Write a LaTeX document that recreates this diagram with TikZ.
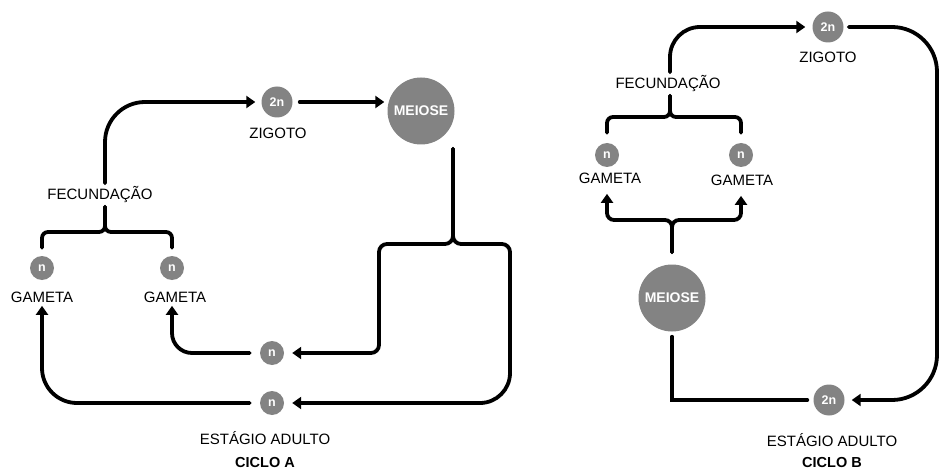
\documentclass[tikz,border=0pt]{standalone}
\usepackage{fontspec}
\setmainfont{Liberation Sans}
\usetikzlibrary{arrows.meta,positioning,calc}
\definecolor{cellgray}{HTML}{838383}

\begin{document}
\begin{tikzpicture}[x=1pt,y=-1pt,
    every node/.style={font=\fontsize{15}{17}\selectfont},
    cell/.style={circle,fill=cellgray,text=white,inner sep=0pt,font=\fontsize{12.5}{14}\selectfont\bfseries},
    hap/.style={cell,minimum size=24pt},
    dip/.style={cell,minimum size=31pt},
    meio/.style={cell,minimum size=67pt,font=\fontsize{14}{16}\selectfont\bfseries},
    line/.style={line width=3.8pt,line cap=round},
    arr/.style={line,-{Triangle[length=9pt,width=12pt]}},
    title/.style={font=\fontsize{14.5}{16}\selectfont\bfseries}]
    \useasboundingbox (0,0) rectangle (941,470);
    % ciclo A
    \node[hap] (gA1) at (42,268) {n};
    \node (gA1l) at (42,297) {GAMETA};
    \node[hap] (gA2) at (172,268) {n};
    \node (gA2l) at (175,297) {GAMETA};
    \node (fecA) at (100,195) {FECUNDAÇÃO};
    \node[dip] (zA) at (277,102) {2n};
    \node (zAl) at (278,133) {ZIGOTO};
    \node[meio] (mA) at (421,111) {MEIOSE};
    \node[hap] (nA1) at (272,353) {n};
    \node[hap] (nA2) at (272,403) {n};
    \node (adA) at (265,438) {ESTÁGIO ADULTO};
    \node[title] (ciA) at (265,463) {CICLO A};
    \coordinate (bA) at (105,232);
    \coordinate (bA2) at (453,244);
    \draw[line,rounded corners=6] ([yshift=8pt]gA1.north) |- (bA) -- (bA |- fecA.south);
    \draw[line,rounded corners=6] ([yshift=8pt]gA2.north) |- (bA) -- (bA |- fecA.south);
    \draw[arr,rounded corners=40,shorten >=6pt] (bA |- fecA.north) |- (zA.west);
    \draw[arr,shorten <=7pt,shorten >=3pt] (zA.east) -- (zA.east -| mA.west);
    \draw[arr,rounded corners=8,shorten >=8pt] (bA2 |- mA.south) ++(0,4) -- (bA2) -| (379,300) |- (nA1.east);
    \draw[arr,shorten >=8pt] (bA2 |- mA.south) ++(0,4) [rounded corners=8] -- (bA2) -| (510,320) [rounded corners=30] |- (nA2.east);
    \draw[arr,rounded corners=20,shorten <=10pt] (nA1.west) -| (gA2l.south -| gA2);
    \draw[arr,rounded corners=35,shorten <=10pt] (nA2.west) -| (gA1l.south -| gA1);
    % ciclo B
    \node[dip] (zB) at (828,27) {2n};
    \node (zBl) at (828,57) {ZIGOTO};
    \node (fecB) at (668,84) {FECUNDAÇÃO};
    \node[hap] (gB1) at (607,155) {n};
    \node (gB1l) at (610,178) {GAMETA};
    \node[hap] (gB2) at (741,155) {n};
    \node (gB2l) at (742,180) {GAMETA};
    \node[meio] (mB) at (672,298) {MEIOSE};
    \node[dip] (aB) at (829,400) {2n};
    \node (adB) at (832,440) {ESTÁGIO ADULTO};
    \node[title] (ciB) at (832,463) {CICLO B};
    \coordinate (bB) at (670,117);
    \coordinate (bB2) at (672,220);
    \draw[line,rounded corners=6] ([yshift=10pt]gB1.north) |- (bB) -- (bB |- fecB.south);
    \draw[line,rounded corners=6] ([yshift=10pt]gB2.north) |- (bB) -- (bB |- fecB.south);
    \draw[arr,rounded corners=30,shorten >=7pt] (bB |- fecB.north) |- (zB.west);
    \draw[arr,rounded corners=45,shorten <=5pt,shorten >=7pt] (zB.east) -| (937,200) |- (aB.east);
    \draw[arr,rounded corners=7,shorten >=7pt] ([yshift=12pt]mB.north) -- (bB2) -| (gB1l.south -| gB1);
    \draw[arr,rounded corners=7,shorten >=7pt] ([yshift=12pt]mB.north) -- (bB2) -| (gB2l.south -| gB2);
    \draw[line] ([yshift=-5pt]mB.south) |- ([xshift=-6pt]aB.west);
\end{tikzpicture}
\end{document}
